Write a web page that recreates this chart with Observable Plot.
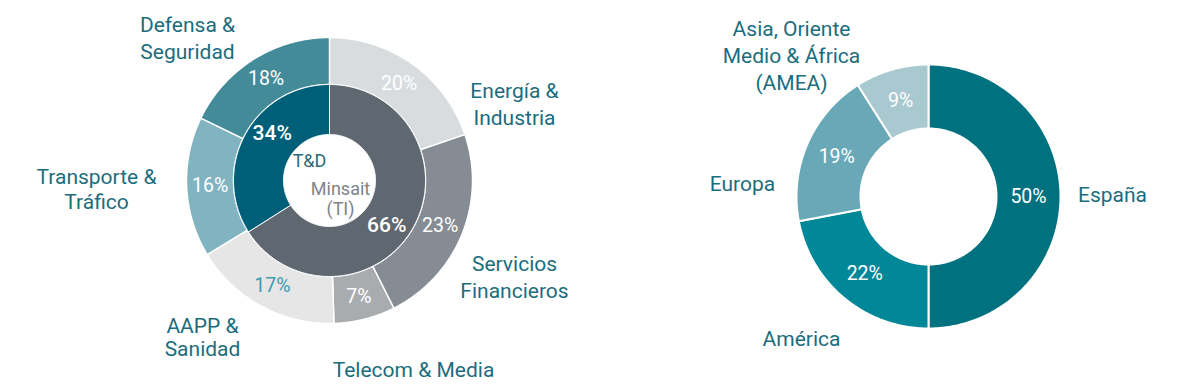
<!DOCTYPE html>
<html>
<head>
<meta charset="utf-8">
<script src="https://cdn.jsdelivr.net/npm/d3@7"></script>
<script src="https://cdn.jsdelivr.net/npm/@observablehq/plot@0.6"></script>
<style>
html,body{margin:0;padding:0;background:#fff;}
</style>
</head>
<body>
<div id="chart"></div>
<script>
// ---- data ----
const sectors = ["Energía &\nIndustria", "Servicios\nFinancieros", "Telecom & Media", "AAPP &\nSanidad", "Transporte &\nTráfico", "Defensa &\nSeguridad"];
const sectorShare = [20, 23, 7, 17, 16, 18];
const segments = ["Minsait\n(TI)", "T&D"];
const segmentShare = [66, 34];
const regions = ["España", "América", "Europa", "Asia, Oriente\nMedio & África\n(AMEA)"];
const regionShare = [50, 22, 19, 9];

// ---- styles ----
const sectorColors = ["#d9dcde", "#868c93", "#a9acaf", "#e6e6e7", "#82b3c0", "#448b9a"];
const sectorPctColors = ["#fff", "#fff", "#fff", "#3c9cb0", "#fff", "#fff"];
const segmentColors = ["#5f6871", "#005f78"];
const regionColors = ["#00717f", "#008898", "#68a8b7", "#a9c9d1"];
const labelColor = "#1b6d7d";

// ---- layout ----
const W = 1200, H = 388;
const left = {cx: 329, cy: 180, r0: 46, r1: 96, r2: 143};
const right = {cx: 928, cy: 196, r0: 68, r1: 132};
const sectorLabelPos = [[185, -78, 1.3], [185, 95, 1.3], [84, 188, 1.2], [-127, 157, 1.08], [-233, 8, 1.2], [-142, -144, 1.3]];
const regionLabelPos = [[184, -3, 1.2], [-127, 141, 1.2], [-186, -14, 1.2], [-137, -142, 1.28]];
const segmentPctAdj = [[-5, 11], [5, -13]];

function slices(names, values, c, rIn, rOut) {
  const total = d3.sum(values);
  let acc = 0;
  return names.map((n, i) => {
    const a0 = acc / total * 2 * Math.PI;
    acc += values[i];
    const a1 = acc / total * 2 * Math.PI;
    return {name: n, value: values[i], i, a0, a1, c, rIn, rOut};
  });
}
function polar(c, r, a) { return [c.cx + r * Math.sin(a), c.cy - r * Math.cos(a)]; }
function ring(sl, key) {
  const pts = [];
  for (const s of sl) {
    const n = Math.max(2, Math.ceil((s.a1 - s.a0) / (Math.PI / 180)));
    const poly = [];
    for (let k = 0; k <= n; k++) poly.push(polar(s.c, s.rOut, s.a0 + (s.a1 - s.a0) * k / n));
    for (let k = n; k >= 0; k--) poly.push(polar(s.c, s.rIn, s.a0 + (s.a1 - s.a0) * k / n));
    poly.push(poly[0]);
    for (const [x, y] of poly) pts.push({x, y, z: key + s.i, i: s.i});
  }
  return pts;
}
function centroid(s) {
  return polar(s.c, (s.rIn + s.rOut) / 2, (s.a0 + s.a1) / 2);
}

const outerL = slices(sectors, sectorShare, left, left.r1, left.r2);
const innerL = slices(segments, segmentShare, left, left.r0, left.r1);
const donutR = slices(regions, regionShare, right, right.r0, right.r1);

const font = "Roboto, 'Open Sans', sans-serif";

const plot = Plot.plot({
  width: W, height: H,
  margin: 0,
  x: {domain: [0, W], range: [0, W], axis: null},
  y: {domain: [0, H], range: [0, H], axis: null},
  style: {fontFamily: font, background: "#fff"},
  marks: [
    Plot.line(ring(outerL, "o"), {x: "x", y: "y", z: "z", fill: d => sectorColors[d.i], stroke: "#fff", strokeWidth: 1.5, curve: "linear"}),
    Plot.line(ring(innerL, "n"), {x: "x", y: "y", z: "z", fill: d => segmentColors[d.i], stroke: "#fff", strokeWidth: 1, curve: "linear"}),
    Plot.line(ring(donutR, "r"), {x: "x", y: "y", z: "z", fill: d => regionColors[d.i], stroke: "#fff", strokeWidth: 2, curve: "linear"}),
    // percentages
    Plot.text(outerL, {x: d => centroid(d)[0], y: d => centroid(d)[1], text: d => d.value + "%", fill: d => sectorPctColors[d.i], fontSize: 19.5}),
    Plot.text(innerL, {x: d => centroid(d)[0] + segmentPctAdj[d.i][0], y: d => centroid(d)[1] + segmentPctAdj[d.i][1], text: d => d.value + "%", fill: "#fff", fontSize: 21, fontWeight: 500}),
    Plot.text(donutR, {x: d => centroid(d)[0], y: d => centroid(d)[1], text: d => d.value + "%", fill: "#fff", fontSize: 19.5}),
    // segment names inside hole
    Plot.text([innerL[1]], {x: left.cx - 20, y: left.cy - 19, text: "name", fill: "#2a6a78", fontSize: 18}),
    Plot.text([innerL[0]], {x: left.cx + 11, y: left.cy + 18, text: "name", fill: "#7d848b", fontSize: 18, lineHeight: 1.1}),
    // category labels
    ...outerL.map(s => Plot.text([s], {x: left.cx + sectorLabelPos[s.i][0], y: left.cy + sectorLabelPos[s.i][1], text: "name", fill: labelColor, fontSize: 21, lineHeight: sectorLabelPos[s.i][2]})),
    ...donutR.map(s => Plot.text([s], {x: right.cx + regionLabelPos[s.i][0], y: right.cy + regionLabelPos[s.i][1], text: "name", fill: labelColor, fontSize: 21, lineHeight: regionLabelPos[s.i][2]}))
  ]
});
document.getElementById("chart").appendChild(plot);
</script>
</body>
</html>
